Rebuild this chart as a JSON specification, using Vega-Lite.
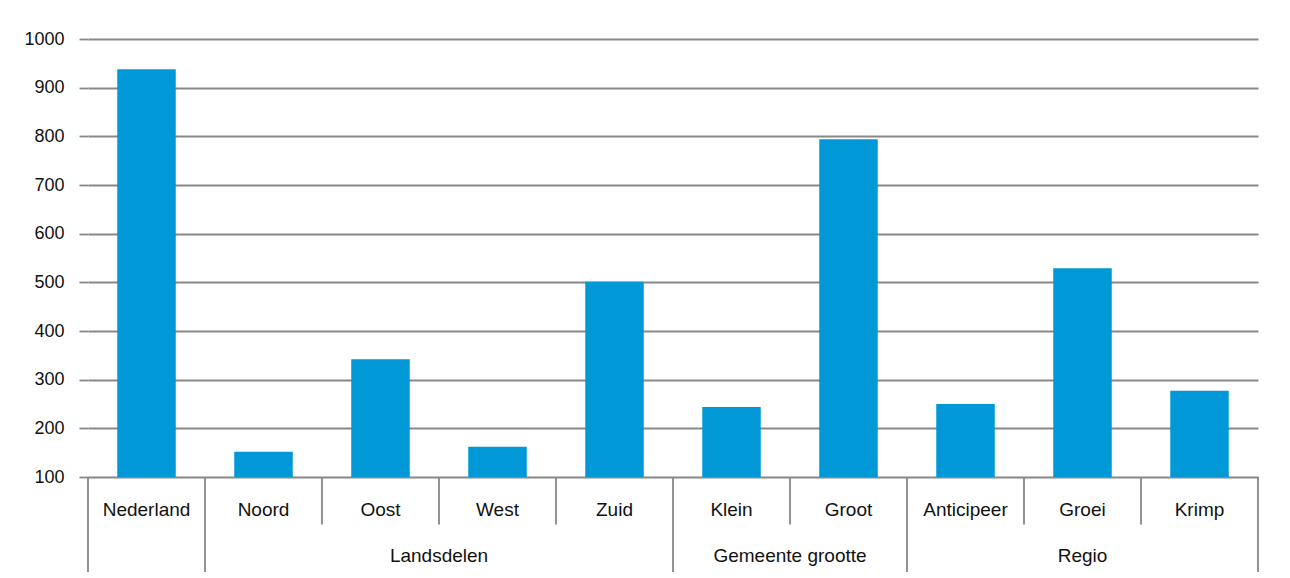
{
  "$schema": "https://vega.github.io/schema/vega-lite/v6.json",
  "background": "white",
  "padding": {"left": 23, "top": 30, "right": 5, "bottom": 0},
  "bounds": "flush",
  "config": {"view": {"stroke": null}, "font": "Liberation Sans", "text": {"font": "Liberation Sans"}},
  "datasets": {
    "d": [
      {"categorie": "Nederland", "groep": "", "waarde": 938},
      {"categorie": "Noord", "groep": "Landsdelen", "waarde": 152},
      {"categorie": "Oost", "groep": "Landsdelen", "waarde": 342},
      {"categorie": "West", "groep": "Landsdelen", "waarde": 162},
      {"categorie": "Zuid", "groep": "Landsdelen", "waarde": 501},
      {"categorie": "Klein", "groep": "Gemeente grootte", "waarde": 244},
      {"categorie": "Groot", "groep": "Gemeente grootte", "waarde": 794},
      {"categorie": "Anticipeer", "groep": "Regio", "waarde": 250},
      {"categorie": "Groei", "groep": "Regio", "waarde": 529},
      {"categorie": "Krimp", "groep": "Regio", "waarde": 277}
    ]
  },
  "data": {"name": "d"},
  "spacing": 0,
  "resolve": {"scale": {"x": "shared", "y": "independent"}},
  "vconcat": [
    {
      "width": 1170,
      "height": 438,
      "mark": {"type": "bar", "color": "#0098d6", "width": {"band": 0.5}},
      "encoding": {
        "x": {"field": "categorie", "type": "nominal", "sort": null, "scale": {"paddingInner": 0, "paddingOuter": 0}, "axis": null},
        "y": {
          "field": "waarde", "type": "quantitative",
          "scale": {"domain": [100, 1000], "nice": false, "zero": false},
          "axis": {
            "values": [100, 200, 300, 400, 500, 600, 700, 800, 900, 1000],
            "format": "d",
            "title": null, "grid": true, "gridColor": "#878787", "gridWidth": 1.8,
            "domain": false, "tickSize": 9, "tickColor": "#878787", "tickWidth": 1.8,
            "labelFont": "Liberation Sans", "labelFontSize": 18, "labelColor": "#111111",
            "labelPadding": 15, "minExtent": 60, "maxExtent": 60
          }
        },
        "y2": {"datum": 100}
      }
    },
    {
      "width": 1170,
      "height": 95,
      "transform": [
        {"window": [{"op": "row_number", "as": "rang"}], "groupby": ["groep"]},
        {"joinaggregate": [{"op": "count", "as": "n"}], "groupby": ["groep"]},
        {"window": [{"op": "row_number", "as": "rij"}]},
        {"joinaggregate": [{"op": "count", "as": "totaal"}]}
      ],
      "layer": [
        {
          "transform": [{"filter": "datum.rang > 1"}],
          "mark": {"type": "rule", "color": "#878787", "strokeWidth": 1.8},
          "encoding": {
            "x": {"field": "categorie", "type": "nominal", "sort": null, "bandPosition": 0, "axis": null},
            "y": {"datum": 0, "type": "quantitative", "scale": {"domain": [0, 2], "reverse": true, "nice": false}, "axis": null},
            "y2": {"datum": 1}
          }
        },
        {
          "transform": [{"filter": "datum.rang == 1"}],
          "mark": {"type": "rule", "color": "#878787", "strokeWidth": 1.8},
          "encoding": {
            "x": {"field": "categorie", "type": "nominal", "sort": null, "bandPosition": 0, "axis": null},
            "y": {"datum": 0, "type": "quantitative", "axis": null},
            "y2": {"datum": 2}
          }
        },
        {
          "transform": [{"filter": "datum.rij == datum.totaal"}],
          "mark": {"type": "rule", "color": "#878787", "strokeWidth": 1.8},
          "encoding": {
            "x": {"field": "categorie", "type": "nominal", "sort": null, "bandPosition": 1, "axis": null},
            "y": {"datum": 0, "type": "quantitative", "axis": null},
            "y2": {"datum": 2}
          }
        },
        {
          "mark": {"type": "text", "font": "Liberation Sans", "fontSize": 19, "color": "#111111", "baseline": "middle"},
          "encoding": {
            "x": {"field": "categorie", "type": "nominal", "sort": null, "bandPosition": 0.5, "axis": null},
            "y": {"datum": 0.69, "type": "quantitative", "axis": null},
            "text": {"field": "categorie"}
          }
        },
        {
          "transform": [{"filter": "datum.groep != '' && datum.n % 2 == 1 && datum.rang == (datum.n + 1) / 2"}],
          "mark": {"type": "text", "font": "Liberation Sans", "fontSize": 19, "color": "#111111", "baseline": "middle"},
          "encoding": {
            "x": {"field": "categorie", "type": "nominal", "sort": null, "bandPosition": 0.5, "axis": null},
            "y": {"datum": 1.67, "type": "quantitative", "axis": null},
            "text": {"field": "groep"}
          }
        },
        {
          "transform": [{"filter": "datum.groep != '' && datum.n % 2 == 0 && datum.rang == datum.n / 2 + 1"}],
          "mark": {"type": "text", "font": "Liberation Sans", "fontSize": 19, "color": "#111111", "baseline": "middle"},
          "encoding": {
            "x": {"field": "categorie", "type": "nominal", "sort": null, "bandPosition": 0, "axis": null},
            "y": {"datum": 1.67, "type": "quantitative", "axis": null},
            "text": {"field": "groep"}
          }
        }
      ]
    }
  ]
}
